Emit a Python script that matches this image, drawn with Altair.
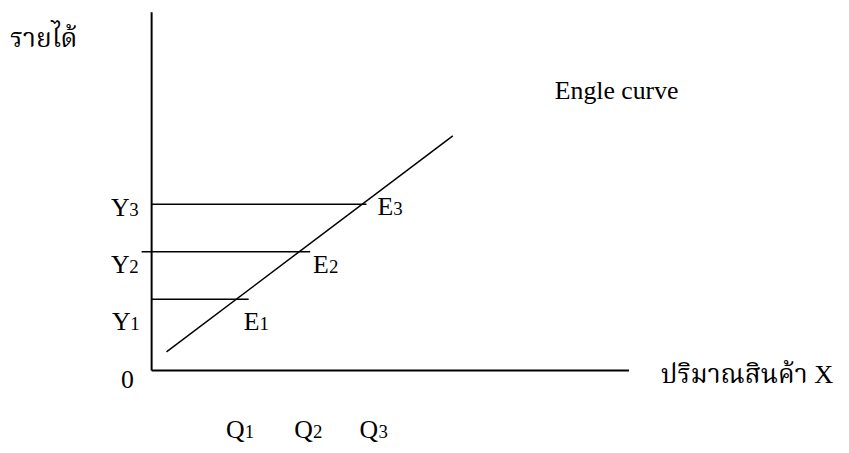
import altair as alt
import pandas as pd

# ---- values (abstract units: quantity on x, income on y) ----
axis_x_end = 20.08          # length of the quantity axis
axis_y_end = 15.08          # height of the income axis
income_levels = [3.0, 5.0, 7.0]            # Y1, Y2, Y3
income_line_from = [0.0, -0.42, 0.0]
income_line_to = [4.08, 6.67, 9.04]
engel_x = [0.625, 12.67]                   # Engel curve end points
engel_y = [0.79, 9.875]

y_label_letters = ["Y", "Y", "Y"]
y_label_digits = ["1", "2", "3"]
y_label_x = [-1.67, -1.71, -1.71]
y_label_y = [1.71, 4.125, 6.5]

e_label_letters = ["E", "E", "E"]
e_label_digits = ["1", "2", "3"]
e_label_x = [3.875, 6.79, 9.5]
e_label_y = [1.71, 4.125, 6.54]

q_label_letters = ["Q", "Q", "Q"]
q_label_digits = ["1", "2", "3"]
q_label_x = [3.125, 6.0, 8.75]
q_label_y = [-2.83, -2.83, -2.83]

latin_texts = ["Engle  curve", "0"]
latin_x = [16.96, -1.29]
latin_y = [11.42, -0.75]

thai_texts = ["รายได้", "ปริมาณสินค้า X"]
thai_x = [-5.96, 21.42]
thai_y = [13.625, -0.54]

# ---- scales ----
xs = alt.Scale(domain=[-6.0417, 29.0], nice=False, zero=False)
ys = alt.Scale(domain=[-3.0417, 15.1667], nice=False, zero=False)

def X(f):
    return alt.X(f, type="quantitative", scale=xs, axis=None)

def Y(f):
    return alt.Y(f, type="quantitative", scale=ys, axis=None)

axes_df = pd.DataFrame({
    "x": [0.0, 0.0], "x2": [axis_x_end, 0.0],
    "y": [0.0, 0.0], "y2": [0.0, axis_y_end],
})
levels_df = pd.DataFrame({
    "x": income_line_from, "x2": income_line_to,
    "y": income_levels, "y2": income_levels,
})
engel_df = pd.DataFrame({
    "x": [engel_x[0]], "x2": [engel_x[1]],
    "y": [engel_y[0]], "y2": [engel_y[1]],
})

axes_layer = alt.Chart(axes_df).mark_rule(color="black", strokeWidth=2).encode(
    x=X("x"), x2="x2", y=Y("y"), y2="y2")
levels_layer = alt.Chart(levels_df).mark_rule(color="black", strokeWidth=1.5).encode(
    x=X("x"), x2="x2", y=Y("y"), y2="y2")
engel_layer = alt.Chart(engel_df).mark_rule(color="black", strokeWidth=1.5).encode(
    x=X("x"), x2="x2", y=Y("y"), y2="y2")

FONT = "Liberation Serif, Norasi, Kinnari, Noto Serif Thai, Noto Sans Thai, serif"

def letter_layers(letters, digits, xv, yv, dx):
    df = pd.DataFrame({"t": letters, "d": digits, "x": xv, "y": yv})
    a = alt.Chart(df).mark_text(font=FONT, fontSize=26, align="left",
                                baseline="alphabetic", color="black").encode(
        x=X("x"), y=Y("y"), text="t:N")
    b = alt.Chart(df).mark_text(font=FONT, fontSize=19, align="left",
                                baseline="alphabetic", color="black", dx=dx).encode(
        x=X("x"), y=Y("y"), text="d:N")
    return [a, b]

latin_df = pd.DataFrame({"t": latin_texts, "x": latin_x, "y": latin_y})
latin_layer = alt.Chart(latin_df).mark_text(font=FONT, fontSize=26, align="left",
                                            baseline="alphabetic", color="black").encode(
    x=X("x"), y=Y("y"), text="t:N")

thai_df = pd.DataFrame({"t": thai_texts, "x": thai_x, "y": thai_y})
thai_layer = alt.Chart(thai_df).mark_text(font=FONT, fontSize=26.5, align="left",
                                          baseline="alphabetic", color="black").encode(
    x=X("x"), y=Y("y"), text="t:N")

layers = [axes_layer, levels_layer, engel_layer, latin_layer, thai_layer]
layers += letter_layers(y_label_letters, y_label_digits, y_label_x, y_label_y, 18.5)
layers += letter_layers(e_label_letters, e_label_digits, e_label_x, e_label_y, 16)
layers += letter_layers(q_label_letters, q_label_digits, q_label_x, q_label_y, 19)

chart = alt.layer(*layers).properties(
    width=841, height=437,
    autosize=alt.AutoSizeParams(type="none"),
    padding=0,
).configure_view(stroke=None)

chart.save("out.html", embed_options={"renderer": "svg", "actions": False})
